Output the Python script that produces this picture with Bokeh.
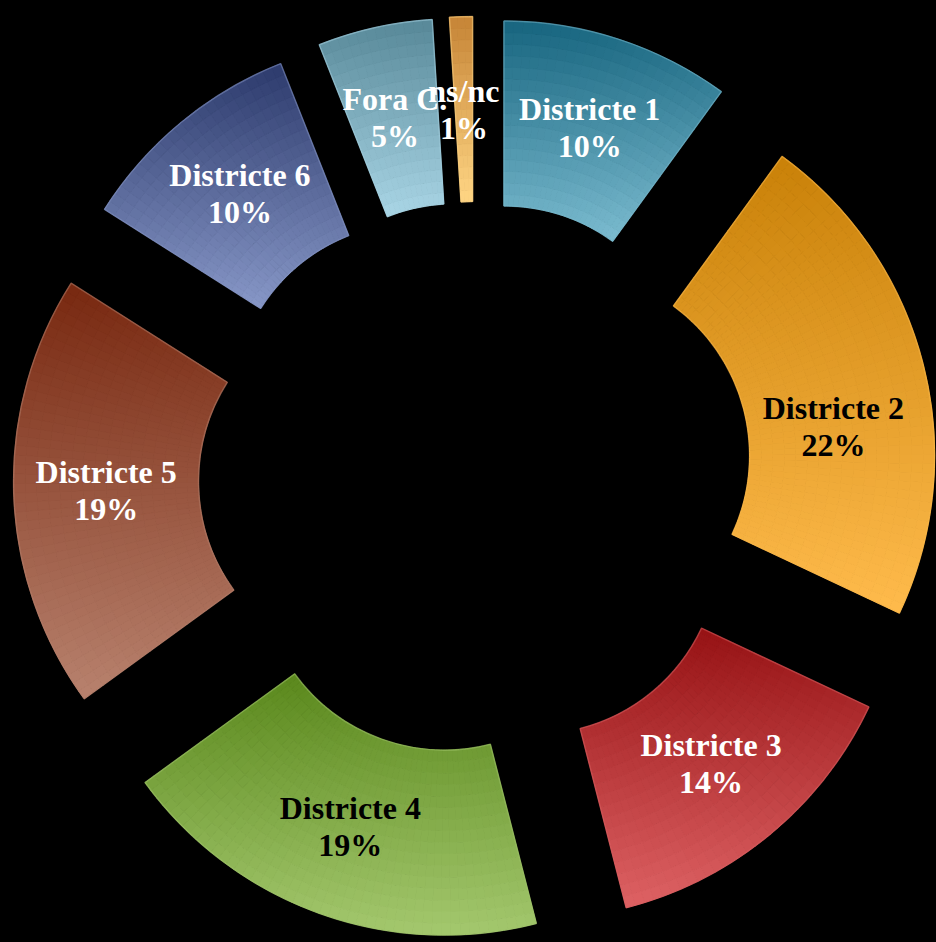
import math
import numpy as np
from bokeh.plotting import figure
from bokeh.models import ColumnDataSource
from bokeh.embed import file_html
from bokeh.resources import INLINE
from bokeh.core.properties import value

# ---------------- data ----------------
categories = ["Districte 1", "Districte 2", "Districte 3", "Districte 4",
              "Districte 5", "Districte 6", "Fora C.", "ns/nc"]
percent = [10, 22, 14, 19, 19, 10, 5, 1]
pct_labels = ["10%", "22%", "14%", "19%", "19%", "10%", "5%", "1%"]
top_colors = ["#17657f", "#c98108", "#961214", "#5a881c",
              "#782810", "#2c3a6c", "#578898", "#c68436"]
bottom_colors = ["#7cbcd0", "#ffbb4c", "#de6264", "#a4c86e",
                 "#b8826e", "#8898c8", "#aad6e6", "#ffd684"]
label_colors = ["white", "black", "white", "black", "white", "white", "white", "white"]

# ---------------- layout ----------------
W, H = 936, 942
CX, CY = 475.0, 464.0        # doughnut centre (data units = pixels)
R_OUT, R_IN = 370.0, 185.0
EXPLODE = 92.0
LABEL_NUDGE_Y = [0, -40, 0, 0, 0, 0, 0, 0]
FONT = "Liberation Serif"
FONT_SIZE = "32px"
LINE_GAP = 18.5


def hex_to_rgb(h):
    h = h.lstrip("#")
    return tuple(int(h[i:i + 2], 16) for i in (0, 2, 4))


def lerp_color(c1, c2, t):
    a, b = hex_to_rgb(c1), hex_to_rgb(c2)
    t = min(max(t, 0.0), 1.0)
    return "#%02x%02x%02x" % tuple(int(round(a[k] + (b[k] - a[k]) * t)) for k in range(3))


p = figure(width=W, height=H, x_range=(0, W), y_range=(0, H),
           output_backend="svg", toolbar_location=None,
           x_axis_type=None, y_axis_type=None, min_border=0,
           background_fill_color="black", border_fill_color="black",
           outline_line_color=None)
p.grid.visible = False

total = float(sum(percent))
cum = np.concatenate([[0.0], np.cumsum(percent)]) / total * 360.0

cells = dict(x=[], y=[], ri=[], ro=[], sa=[], ea=[], color=[])
outl = dict(x=[], y=[], sa=[], ea=[], color=[])
lab = dict(x=[], y1=[], y2=[], name=[], pct=[], color=[])

N_RAD = 16
for i, cat in enumerate(categories):
    t0, t1 = cum[i], cum[i + 1]
    tm = math.radians((t0 + t1) / 2.0)
    cx = CX + EXPLODE * math.sin(tm)
    cy = CY + EXPLODE * math.cos(tm)
    span = t1 - t0
    n_ang = max(2, int(math.ceil(span / 1.5)))
    angs = np.linspace(t0, t1, n_ang + 1)
    rads = np.linspace(R_IN, R_OUT, N_RAD + 1)
    # vertical extent of the wedge for the gradient
    samp_t = np.radians(np.linspace(t0, t1, 60))
    ys = np.concatenate([cy + R_OUT * np.cos(samp_t), cy + R_IN * np.cos(samp_t)])
    ymax, ymin = ys.max(), ys.min()
    for a in range(n_ang):
        for r in range(N_RAD):
            am = math.radians((angs[a] + angs[a + 1]) / 2.0)
            rm = (rads[r] + rads[r + 1]) / 2.0
            yc = cy + rm * math.cos(am)
            t = (ymax - yc) / (ymax - ymin)
            cells["x"].append(cx)
            cells["y"].append(cy)
            cells["ri"].append(rads[r])
            cells["ro"].append(rads[r + 1])
            cells["sa"].append(math.radians(90.0 - angs[a]))
            cells["ea"].append(math.radians(90.0 - angs[a + 1]))
            cells["color"].append(lerp_color(top_colors[i], bottom_colors[i], t))
    outl["x"].append(cx)
    outl["y"].append(cy)
    outl["sa"].append(math.radians(90.0 - t0))
    outl["ea"].append(math.radians(90.0 - t1))
    outl["color"].append(bottom_colors[i])
    lr = (R_OUT + R_IN) / 2.0
    lx = cx + lr * math.sin(tm)
    ly = cy + lr * math.cos(tm) + LABEL_NUDGE_Y[i]
    lab["x"].append(lx)
    lab["y1"].append(ly + LINE_GAP)
    lab["y2"].append(ly - LINE_GAP)
    lab["name"].append(cat)
    lab["pct"].append(pct_labels[i])
    lab["color"].append(label_colors[i])

src = ColumnDataSource(cells)
p.annular_wedge(x="x", y="y", inner_radius="ri", outer_radius="ro",
                start_angle="sa", end_angle="ea", direction="clock",
                fill_color="color", line_color="color", line_width=1, source=src)

osrc = ColumnDataSource(outl)
p.annular_wedge(x="x", y="y", inner_radius=R_IN, outer_radius=R_OUT,
                start_angle="sa", end_angle="ea", direction="clock",
                fill_color=None, line_color="color", line_alpha=0.5,
                line_width=1.5, source=osrc)

lsrc = ColumnDataSource(lab)
for col in ("name", "pct"):
    yk = "y1" if col == "name" else "y2"
    p.text(x="x", y=yk, text=col, source=lsrc, text_color="color",
           text_font=value(FONT), text_font_style="bold", text_font_size=FONT_SIZE,
           text_align="center", text_baseline="middle")

TEMPLATE = "{% block preamble %}<style>html, body { background-color: #000000; overflow: hidden; }</style>{% endblock %}"
open("out.html", "w").write(file_html(p, INLINE, template=TEMPLATE))
